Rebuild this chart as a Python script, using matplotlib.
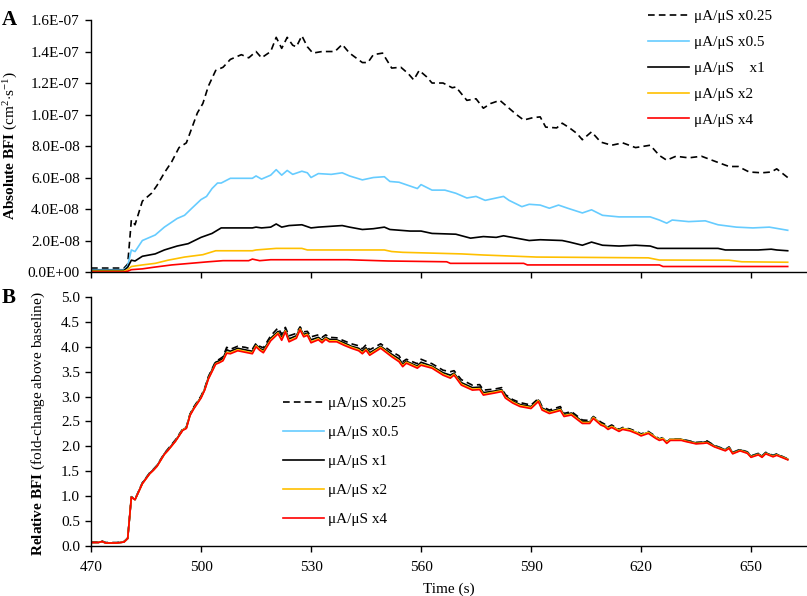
import matplotlib
matplotlib.use("Agg")
import matplotlib.pyplot as plt
import numpy as np

plt.rcParams['font.family'] = ['Liberation Serif', 'DejaVu Serif']
plt.rcParams['mathtext.fontset'] = 'custom'
plt.rcParams['mathtext.rm'] = 'Liberation Serif'
plt.rcParams['mathtext.bf'] = 'Liberation Serif:bold'
plt.rcParams['mathtext.it'] = 'Liberation Serif:italic'

# ---------------------------------------------------------------
# Data
# ---------------------------------------------------------------
labels_a = ["μA/μS x0.25", "μA/μS x0.5", "μA/μS    x1", "μA/μS x2", "μA/μS x4"]
labels_b = ["μA/μS x0.25", "μA/μS x0.5", "μA/μS x1", "μA/μS x2", "μA/μS x4"]
colors = ["black", "#66CCFF", "black", "#FFC000", "#FF0000"]

# Panel A: absolute BFI, values in units of 1e-8 cm^2/s
t_abs_025 = [470, 476, 479, 480, 481, 482, 484, 486.5, 488, 490, 492, 494, 496, 499, 500.5,
             502, 504, 506, 508, 511, 513, 515, 516.5, 519, 520.5, 522, 523.5, 525, 526,
             527.5, 529, 530.5, 533, 536.5, 538.5, 540.5, 544, 545.5, 547, 549.5, 552,
             554.5, 556.5, 558, 559.5, 561.5, 563, 566, 568.5, 569.5, 572.5, 575, 577,
             579, 581.5, 583.5, 586, 588, 590.5, 592.5, 594, 597, 598.5, 600.5, 602.5,
             604, 606.5, 609, 612, 615, 618.5, 622.5, 625, 627, 629.5, 633, 636.5, 640.5,
             644, 646.5, 649.5, 653, 655.5, 657, 660]
abs_025 = [0.25, 0.25, 0.25, 0.5, 3.3, 3.0, 4.5, 5.0, 5.5, 6.3, 7.0, 7.9, 8.2, 10.1, 10.7,
           11.8, 12.8, 13.0, 13.5, 13.8, 13.6, 14.0, 13.6, 14.0, 14.9, 14.2, 14.9, 14.4, 14.3,
           15.0, 14.3, 13.9, 14.0, 14.0, 14.45, 13.9, 13.3, 13.3, 13.8, 13.9, 12.95,
           13.0, 12.6, 12.2, 12.8, 12.4, 12.0, 12.0, 11.7, 11.75, 10.9, 11.0, 10.4,
           10.7, 10.9, 10.5, 10.0, 9.65, 9.8, 9.85, 9.2, 9.15, 9.45, 9.15, 8.8,
           8.4, 8.9, 8.25, 8.05, 8.2, 7.9, 8.05, 7.4, 7.1, 7.35, 7.25, 7.35, 7.0,
           6.7, 6.7, 6.35, 6.3, 6.35, 6.55, 6.0]

t_abs_05 = [470, 479, 480, 481, 482, 484, 487.5, 490, 493.5, 495.5, 497.5, 500, 501.5, 503,
            504.5, 505.5, 508, 511, 514, 515, 516.5, 519, 520.5, 522, 523.5, 525, 527.5,
            529, 530, 532, 535.5, 538.5, 540.5, 544, 547, 550, 551.5, 554, 556.5, 559,
            560, 563, 566.5, 569.5, 572.5, 575, 577.5, 580.5, 582.5, 584, 587.5, 589.5,
            592.5, 595, 597.5, 600, 604, 606.5, 609.5, 614, 618.5, 622.5, 625, 627,
            628.5, 633, 637.5, 641, 646, 650.5, 655, 660]
abs_05 = [0.15, 0.15, 0.4, 1.4, 1.3, 2.0, 2.35, 2.85, 3.4, 3.6, 4.05, 4.6, 4.8, 5.3,
          5.65, 5.65, 5.95, 5.95, 5.95, 6.1, 5.9, 6.15, 6.5, 6.15, 6.45, 6.2, 6.4,
          6.3, 6.0, 6.25, 6.2, 6.3, 6.1, 5.85, 6.0, 6.05, 5.75, 5.7, 5.5, 5.3,
          5.55, 5.2, 5.2, 5.0, 4.7, 4.8, 4.55, 4.7, 4.8, 4.55, 4.15, 4.3,
          4.25, 4.05, 4.25, 4.05, 3.75, 3.95, 3.6, 3.5, 3.5, 3.5, 3.3, 3.1,
          3.3, 3.2, 3.25, 3.0, 2.85, 2.8, 2.85, 2.65]

t_abs_1 = [470, 479, 480, 481, 482, 484, 487.5, 490, 493.5, 496.5, 500, 503, 505.5, 514,
           515, 516.5, 519, 520.5, 522, 524, 527.5, 530, 532, 538.5, 540.5, 544, 547,
           550, 551.5, 557, 560, 563, 569.5, 573.5, 577, 580.5, 582.5, 586, 589.5,
           592.5, 598.5, 600.5, 604, 606.5, 609.5, 614, 618.5, 622.5, 624.5, 641, 643,
           652, 655.5, 657, 660]
abs_1 = [0.1, 0.1, 0.3, 0.75, 0.7, 1.0, 1.15, 1.4, 1.65, 1.8, 2.2, 2.45, 2.8, 2.8,
         2.85, 2.8, 2.85, 3.05, 2.85, 2.95, 3.0, 2.8, 2.85, 2.95, 2.85, 2.7, 2.75,
         2.85, 2.7, 2.6, 2.6, 2.45, 2.4, 2.15, 2.25, 2.2, 2.3, 2.15, 2.0,
         2.05, 2.0, 1.9, 1.7, 1.9, 1.7, 1.65, 1.7, 1.65, 1.5, 1.5, 1.4,
         1.4, 1.45, 1.4, 1.35]

t_abs_2 = [470, 479, 480, 481, 484, 487.5, 491, 495.5, 500.5, 504, 514, 515, 520.5, 527.5,
           529, 550, 552, 555, 571, 577, 586, 591.5, 622, 625, 644, 647.5, 660]
abs_2 = [0.05, 0.05, 0.15, 0.35, 0.45, 0.55, 0.75, 0.95, 1.1, 1.35, 1.35, 1.4, 1.5, 1.5,
         1.4, 1.4, 1.3, 1.25, 1.15, 1.08, 1.0, 0.95, 0.9, 0.76, 0.75, 0.65, 0.62]

t_abs_4 = [470, 479, 480, 481, 484, 487, 492, 497, 502, 506, 513, 514, 516, 519, 540, 551,
           567, 568, 588, 589, 625, 626, 660]
abs_4 = [0.0, 0.0, 0.05, 0.15, 0.2, 0.3, 0.45, 0.55, 0.65, 0.72, 0.72, 0.82, 0.72, 0.78,
         0.78, 0.7, 0.65, 0.55, 0.55, 0.45, 0.45, 0.35, 0.35]

# Panel B: relative BFI (fold-change above baseline)
t_rel = [470, 472, 473, 474, 477, 479, 480, 481, 482, 484,
         486, 487, 488, 490, 491, 493, 495, 496, 497, 498,
         500, 501, 502, 504, 505, 506, 507, 508, 510, 512,
         514, 515, 516, 517, 519, 521, 522, 523, 524, 526,
         527, 528, 529, 530, 532, 533, 534, 535, 537, 539,
         541, 543, 544, 545, 546, 549, 552, 554, 555, 556,
         559, 560, 563, 566, 568, 569, 571, 574, 576, 577,
         580, 582, 583, 585, 587, 590, 592, 593, 595, 598,
         599, 601, 604, 606, 607, 609, 610, 611, 612, 614,
         615, 617, 619, 620, 622, 624, 625, 626, 627, 628,
         631, 632, 635, 637, 638, 640, 643, 644, 645, 647,
         649, 650, 652, 653, 654, 656, 657, 660]
rel_025 = [0.08, 0.08, 0.10, 0.07, 0.07, 0.09, 0.16, 0.99, 0.94, 1.27,
           1.47, 1.54, 1.62, 1.86, 1.95, 2.13, 2.35, 2.39, 2.65, 2.79,
           3.01, 3.17, 3.40, 3.71, 3.75, 3.80, 3.99, 3.95, 4.01, 3.99,
           3.95, 4.07, 4.01, 3.98, 4.22, 4.38, 4.25, 4.39, 4.22, 4.27,
           4.40, 4.30, 4.31, 4.20, 4.24, 4.19, 4.24, 4.19, 4.18, 4.12,
           4.06, 4.02, 3.96, 4.04, 3.94, 4.06, 3.90, 3.82, 3.70, 3.75,
           3.66, 3.75, 3.66, 3.53, 3.50, 3.52, 3.34, 3.23, 3.24, 3.13,
           3.15, 3.18, 3.04, 2.94, 2.88, 2.83, 2.96, 2.80, 2.73, 2.80,
           2.66, 2.70, 2.53, 2.52, 2.60, 2.49, 2.45, 2.39, 2.43, 2.34,
           2.38, 2.35, 2.29, 2.25, 2.30, 2.20, 2.15, 2.18, 2.09, 2.15,
           2.15, 2.13, 2.08, 2.09, 2.11, 2.02, 1.94, 1.99, 1.88, 1.94,
           1.89, 1.81, 1.86, 1.81, 1.88, 1.82, 1.85, 1.75]
rel_05 = [0.07, 0.07, 0.09, 0.06, 0.06, 0.08, 0.15, 0.98, 0.93, 1.26,
          1.46, 1.53, 1.61, 1.85, 1.93, 2.11, 2.33, 2.37, 2.63, 2.76,
          2.98, 3.14, 3.37, 3.68, 3.71, 3.76, 3.92, 3.90, 3.96, 3.93,
          3.90, 4.03, 3.96, 3.92, 4.16, 4.30, 4.18, 4.33, 4.15, 4.21,
          4.36, 4.24, 4.26, 4.13, 4.18, 4.12, 4.18, 4.14, 4.13, 4.07,
          4.00, 3.96, 3.90, 3.97, 3.87, 4.00, 3.84, 3.75, 3.64, 3.70,
          3.60, 3.68, 3.60, 3.47, 3.42, 3.46, 3.27, 3.17, 3.18, 3.07,
          3.10, 3.13, 3.00, 2.90, 2.83, 2.79, 2.92, 2.77, 2.69, 2.75,
          2.63, 2.66, 2.49, 2.49, 2.58, 2.45, 2.42, 2.36, 2.40, 2.32,
          2.36, 2.33, 2.27, 2.23, 2.28, 2.18, 2.14, 2.16, 2.08, 2.14,
          2.14, 2.12, 2.07, 2.08, 2.09, 2.01, 1.93, 1.98, 1.87, 1.93,
          1.88, 1.80, 1.85, 1.80, 1.87, 1.81, 1.84, 1.74]
rel_1 = [0.07, 0.07, 0.09, 0.06, 0.06, 0.08, 0.15, 0.98, 0.93, 1.26,
         1.46, 1.53, 1.61, 1.85, 1.93, 2.11, 2.33, 2.38, 2.64, 2.77,
         2.99, 3.15, 3.38, 3.69, 3.72, 3.77, 3.94, 3.91, 3.97, 3.94,
         3.91, 4.04, 3.97, 3.93, 4.17, 4.31, 4.19, 4.34, 4.16, 4.22,
         4.37, 4.25, 4.27, 4.14, 4.19, 4.13, 4.19, 4.15, 4.14, 4.08,
         4.01, 3.97, 3.91, 3.98, 3.88, 4.01, 3.85, 3.76, 3.65, 3.71,
         3.61, 3.69, 3.61, 3.48, 3.43, 3.47, 3.28, 3.18, 3.19, 3.08,
         3.11, 3.14, 3.01, 2.91, 2.84, 2.80, 2.93, 2.77, 2.70, 2.76,
         2.63, 2.67, 2.50, 2.49, 2.58, 2.46, 2.43, 2.37, 2.41, 2.32,
         2.36, 2.33, 2.27, 2.23, 2.28, 2.18, 2.14, 2.16, 2.08, 2.14,
         2.14, 2.12, 2.07, 2.08, 2.10, 2.01, 1.93, 1.98, 1.87, 1.93,
         1.88, 1.80, 1.85, 1.80, 1.87, 1.81, 1.84, 1.74]
rel_2 = [0.07, 0.07, 0.09, 0.06, 0.06, 0.08, 0.15, 0.98, 0.93, 1.25,
         1.45, 1.52, 1.60, 1.84, 1.92, 2.10, 2.33, 2.37, 2.63, 2.76,
         2.98, 3.14, 3.36, 3.66, 3.69, 3.73, 3.89, 3.88, 3.94, 3.91,
         3.88, 4.02, 3.95, 3.90, 4.14, 4.28, 4.15, 4.32, 4.12, 4.19,
         4.36, 4.22, 4.25, 4.10, 4.16, 4.10, 4.17, 4.12, 4.12, 4.05,
         3.99, 3.94, 3.88, 3.95, 3.85, 3.99, 3.82, 3.72, 3.62, 3.69,
         3.59, 3.65, 3.59, 3.45, 3.39, 3.45, 3.25, 3.15, 3.16, 3.05,
         3.09, 3.12, 2.99, 2.89, 2.82, 2.78, 2.92, 2.75, 2.68, 2.74,
         2.62, 2.65, 2.48, 2.48, 2.58, 2.45, 2.42, 2.36, 2.40, 2.32,
         2.36, 2.33, 2.27, 2.23, 2.28, 2.18, 2.14, 2.16, 2.08, 2.14,
         2.14, 2.11, 2.06, 2.07, 2.08, 2.00, 1.92, 1.97, 1.86, 1.92,
         1.87, 1.79, 1.84, 1.79, 1.86, 1.80, 1.83, 1.74]
rel_4 = [0.07, 0.07, 0.09, 0.06, 0.06, 0.08, 0.15, 0.98, 0.93, 1.25,
         1.45, 1.52, 1.60, 1.84, 1.92, 2.10, 2.32, 2.36, 2.62, 2.75,
         2.97, 3.13, 3.35, 3.65, 3.68, 3.72, 3.87, 3.86, 3.92, 3.89,
         3.86, 4.00, 3.93, 3.88, 4.12, 4.26, 4.13, 4.30, 4.10, 4.17,
         4.34, 4.20, 4.23, 4.08, 4.14, 4.08, 4.15, 4.10, 4.10, 4.03,
         3.97, 3.92, 3.86, 3.93, 3.83, 3.97, 3.80, 3.70, 3.60, 3.67,
         3.57, 3.63, 3.57, 3.43, 3.37, 3.43, 3.23, 3.13, 3.14, 3.03,
         3.07, 3.10, 2.97, 2.87, 2.80, 2.76, 2.90, 2.73, 2.66, 2.72,
         2.60, 2.63, 2.46, 2.46, 2.56, 2.43, 2.40, 2.34, 2.38, 2.30,
         2.34, 2.31, 2.25, 2.21, 2.26, 2.16, 2.12, 2.14, 2.06, 2.12,
         2.12, 2.10, 2.05, 2.06, 2.07, 1.99, 1.91, 1.96, 1.85, 1.91,
         1.86, 1.78, 1.83, 1.78, 1.85, 1.79, 1.82, 1.73]

x_ticks = [470, 500, 530, 560, 590, 620, 650]
abs_ticks = [0, 2e-8, 4e-8, 6e-8, 8e-8, 1e-7, 1.2e-7, 1.4e-7, 1.6e-7]
abs_tick_labels = ["0.0E+00", "2.0E-08", "4.0E-08", "6.0E-08", "8.0E-08",
                   "1.0E-07", "1.2E-07", "1.4E-07", "1.6E-07"]
rel_ticks = [0.0, 0.5, 1.0, 1.5, 2.0, 2.5, 3.0, 3.5, 4.0, 4.5, 5.0]

# ---------------------------------------------------------------
# Figure
# ---------------------------------------------------------------
fig = plt.figure(figsize=(8.07, 5.96), dpi=100)
ax_a = fig.add_axes([0.1128, 0.5436, 0.886, 0.4228])
ax_b = fig.add_axes([0.1128, 0.0839, 0.886, 0.4178])

lw = 1.2
dash = (0, (4, 2.5))
abs_series = [(t_abs_025, abs_025), (t_abs_05, abs_05), (t_abs_1, abs_1),
              (t_abs_2, abs_2), (t_abs_4, abs_4)]
for i, (t, v) in enumerate(abs_series):
    ls = dash if i == 0 else '-'
    ax_a.plot(t, np.array(v) * 1e-8, color=colors[i], lw=lw, ls=ls, label=labels_a[i])

rel_series = [rel_025, rel_05, rel_1, rel_2, rel_4]
for i, v in enumerate(rel_series):
    ls = dash if i == 0 else '-'
    ax_b.plot(t_rel, v, color=colors[i], lw=lw, ls=ls, label=labels_b[i])

for ax in (ax_a, ax_b):
    ax.set_xlim(470, 665)
    ax.set_xticks(x_ticks)
    for side in ('top', 'right'):
        ax.spines[side].set_visible(False)
    for side in ('left', 'bottom'):
        ax.spines[side].set_linewidth(1.0)
    ax.tick_params(direction='out', length=4, width=1.0, labelsize=11, pad=4)
ax_b.tick_params(axis='x', pad=7)

ax_a.set_ylim(0, 1.6e-7)
ax_a.set_yticks(abs_ticks)
ax_a.set_yticklabels(abs_tick_labels)
ax_a.set_xticklabels([])
ax_a.set_ylabel(r"$\mathbf{Absolute\ BFI}$ (cm$^{2}$$\cdot$s$^{-1}$)", fontsize=11)
ax_a.yaxis.set_label_coords(-0.1, 0.5)

ax_b.set_ylim(0, 5.0)
ax_b.set_yticks(rel_ticks)
ax_b.set_yticklabels([f"{v:.1f}" for v in rel_ticks])
ax_b.set_xticklabels([str(v) for v in x_ticks])
ax_b.set_ylabel(r"$\mathbf{Relative\ BFI}$ (fold-change above baseline)", fontsize=11)
ax_b.yaxis.set_label_coords(-0.062, 0.49)
ax_b.set_xlabel("Time (s)", fontsize=11, labelpad=6)

ax_a.legend(loc='upper left', bbox_to_anchor=(0.779, 1.042), frameon=False,
            fontsize=11, handlelength=2.7, handletextpad=0.3, labelspacing=0.8,
            borderpad=0, borderaxespad=0)
ax_b.legend(loc='upper left', bbox_to_anchor=(0.268, 0.60), frameon=False,
            fontsize=11, handlelength=2.7, handletextpad=0.3, labelspacing=1.0,
            borderpad=0, borderaxespad=0)

fig.text(0.002, 0.958, "A", fontsize=15, fontweight='bold')
fig.text(0.002, 0.492, "B", fontsize=15, fontweight='bold')

fig.savefig("out.png", dpi=100)
